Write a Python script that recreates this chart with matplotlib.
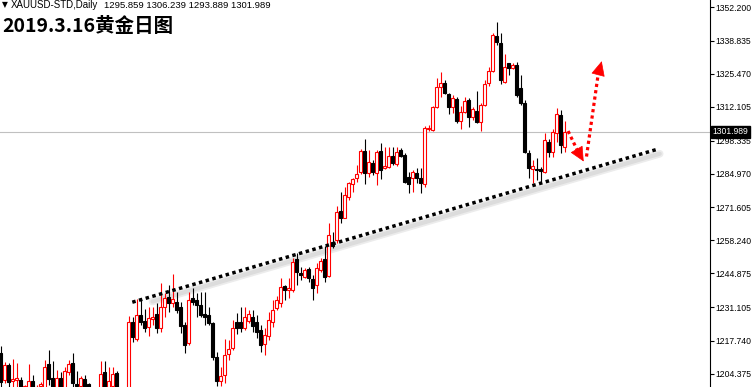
import numpy as np
import matplotlib.pyplot as plt
from matplotlib.patches import Rectangle
from matplotlib.transforms import blended_transform_factory

# daily XAUUSD candles (oldest first)
opens = [1212.7, 1201.8, 1207.9, 1201.4, 1201.8, 1201.8, 1195.7, 1195.7, 1201.4, 1194.5,
         1199.4, 1195.7, 1208.3, 1202.6, 1197.0, 1202.6, 1197.0, 1205.0, 1208.7, 1200.0,
         1199.4, 1202.2, 1200.2, 1196.0, 1191.0, 1195.7, 1205.0, 1197.0, 1199.4, 1204.6,
         1196.0, 1188.0, 1194.0, 1225.2, 1218.3, 1228.0, 1225.6, 1223.2, 1226.4, 1228.4,
         1222.8, 1231.3, 1235.3, 1232.9, 1233.3, 1231.3, 1224.0, 1216.7, 1234.9, 1234.1,
         1232.1, 1228.4, 1228.0, 1224.8, 1211.1, 1201.4, 1203.8, 1212.3, 1214.7, 1225.2,
         1225.2, 1222.8, 1225.6, 1227.2, 1225.2, 1222.0, 1216.3, 1219.6, 1225.2, 1230.9,
         1232.9, 1239.7, 1238.1, 1238.1, 1250.6, 1245.0, 1243.4, 1246.6, 1242.6, 1240.2,
         1246.2, 1250.6, 1243.8, 1257.5, 1258.3, 1270.0, 1267.2, 1275.7, 1280.9, 1283.3,
         1285.8, 1294.2, 1285.4, 1289.4, 1285.4, 1294.2, 1287.4, 1287.8, 1292.2, 1289.0,
         1294.6, 1292.6, 1283.7, 1283.3, 1285.4, 1283.3, 1280.9, 1303.1, 1302.7, 1312.0,
         1320.1, 1321.7, 1317.2, 1312.0, 1315.2, 1306.4, 1310.0, 1314.8, 1308.0, 1310.4,
         1306.0, 1312.8, 1321.7, 1326.5, 1340.7, 1337.8, 1322.1, 1329.8, 1327.7, 1329.0,
         1319.7, 1313.6, 1293.4, 1287.0, 1287.0, 1287.0, 1285.8, 1297.9, 1293.8, 1301.5,
         1308.8, 1295.859]
highs = [1215.5, 1209.1, 1208.7, 1210.3, 1208.7, 1203.0, 1199.8, 1208.3, 1203.8, 1199.8,
         1201.0, 1209.9, 1213.9, 1209.5, 1205.8, 1205.0, 1207.0, 1209.9, 1212.7, 1205.4,
         1203.4, 1203.8, 1200.6, 1198.0, 1198.0, 1209.5, 1209.5, 1207.0, 1207.0, 1205.4,
         1198.0, 1197.0, 1227.6, 1227.2, 1234.5, 1234.1, 1230.5, 1231.3, 1231.3, 1232.9,
         1241.0, 1236.9, 1240.2, 1244.6, 1237.3, 1233.3, 1225.2, 1237.3, 1238.9, 1236.9,
         1237.3, 1237.3, 1231.3, 1225.2, 1213.1, 1207.0, 1218.3, 1217.9, 1226.0, 1228.8,
         1231.3, 1231.3, 1230.0, 1230.0, 1228.0, 1224.0, 1222.8, 1229.2, 1234.1, 1235.7,
         1243.0, 1240.2, 1243.0, 1251.0, 1253.1, 1247.4, 1247.0, 1247.4, 1244.2, 1249.0,
         1251.0, 1255.9, 1265.2, 1261.5, 1272.0, 1277.7, 1279.7, 1281.7, 1283.3, 1288.6,
         1295.0, 1299.1, 1294.6, 1290.6, 1294.6, 1297.5, 1295.9, 1295.9, 1295.9, 1295.9,
         1295.5, 1293.4, 1285.8, 1286.6, 1287.4, 1287.4, 1304.3, 1304.7, 1312.4, 1323.7,
         1326.1, 1322.9, 1317.6, 1316.8, 1316.0, 1312.4, 1316.0, 1315.6, 1312.0, 1318.5,
         1313.6, 1322.9, 1328.2, 1341.9, 1346.3, 1341.9, 1333.4, 1329.8, 1329.8, 1330.2,
         1324.9, 1314.8, 1294.6, 1290.6, 1291.4, 1287.8, 1301.5, 1299.1, 1303.1, 1311.6,
         1310.8, 1306.239]
lows = [1197.8, 1200.6, 1197.8, 1197.8, 1197.8, 1193.7, 1193.7, 1193.7, 1193.7, 1192.0,
        1197.8, 1194.5, 1199.8, 1194.5, 1194.5, 1194.5, 1195.7, 1203.8, 1197.0, 1197.0,
        1197.8, 1194.5, 1193.7, 1190.0, 1189.0, 1194.5, 1194.5, 1195.7, 1197.8, 1193.7,
        1186.0, 1185.0, 1192.0, 1217.1, 1217.5, 1224.0, 1221.2, 1219.6, 1224.0, 1220.8,
        1221.2, 1227.2, 1229.2, 1231.3, 1228.8, 1220.8, 1212.7, 1215.9, 1232.1, 1227.2,
        1227.2, 1224.0, 1224.0, 1209.9, 1199.2, 1199.4, 1200.6, 1209.9, 1213.9, 1220.4,
        1221.2, 1222.0, 1224.8, 1221.2, 1218.7, 1213.1, 1211.9, 1217.9, 1223.2, 1230.0,
        1231.3, 1234.1, 1234.9, 1237.3, 1240.2, 1242.2, 1243.0, 1241.4, 1234.1, 1236.9,
        1245.4, 1241.4, 1243.4, 1255.1, 1257.1, 1265.2, 1267.0, 1274.5, 1277.7, 1281.7,
        1285.0, 1280.9, 1283.7, 1284.6, 1280.5, 1282.9, 1287.0, 1287.4, 1288.6, 1288.2,
        1291.8, 1281.3, 1277.3, 1277.7, 1281.3, 1277.3, 1279.7, 1302.3, 1302.3, 1311.6,
        1316.0, 1317.2, 1309.2, 1309.6, 1305.5, 1303.1, 1309.6, 1303.9, 1306.8, 1305.5,
        1302.3, 1312.4, 1320.5, 1326.1, 1337.0, 1321.3, 1321.7, 1324.9, 1327.3, 1316.0,
        1312.8, 1293.4, 1283.3, 1281.3, 1282.5, 1281.7, 1285.4, 1291.8, 1291.8, 1297.9,
        1293.4, 1293.889]
closes = [1201.0, 1207.9, 1201.0, 1202.2, 1202.6, 1195.7, 1199.4, 1201.4, 1195.7, 1199.0,
          1200.2, 1207.0, 1202.2, 1197.0, 1202.6, 1197.0, 1205.4, 1208.3, 1200.6, 1199.2,
          1202.6, 1197.0, 1195.7, 1192.0, 1197.0, 1204.2, 1197.0, 1201.4, 1204.2, 1195.7,
          1188.0, 1194.0, 1225.2, 1219.2, 1228.0, 1225.2, 1222.8, 1226.8, 1227.2, 1222.8,
          1231.3, 1234.9, 1232.9, 1234.5, 1230.0, 1223.6, 1215.9, 1234.1, 1233.3, 1232.1,
          1228.0, 1227.2, 1224.8, 1211.1, 1201.4, 1203.4, 1211.9, 1214.3, 1222.8, 1222.8,
          1222.8, 1227.2, 1228.4, 1223.6, 1221.2, 1215.9, 1220.0, 1226.0, 1230.0, 1234.1,
          1239.3, 1238.1, 1238.9, 1249.4, 1245.4, 1244.2, 1246.2, 1243.0, 1238.9, 1247.0,
          1249.8, 1243.4, 1260.3, 1255.9, 1269.6, 1267.2, 1276.5, 1281.3, 1282.9, 1285.0,
          1294.2, 1285.4, 1289.8, 1285.8, 1293.8, 1286.6, 1288.2, 1292.2, 1289.4, 1293.8,
          1292.2, 1281.7, 1280.9, 1285.8, 1283.3, 1281.3, 1303.5, 1303.5, 1312.0, 1320.1,
          1321.7, 1317.6, 1312.0, 1315.6, 1306.4, 1310.0, 1314.4, 1308.0, 1311.2, 1306.0,
          1312.8, 1321.3, 1326.5, 1341.1, 1338.2, 1322.9, 1328.2, 1327.7, 1329.0, 1316.8,
          1313.6, 1293.8, 1287.4, 1288.2, 1286.6, 1286.2, 1298.7, 1293.8, 1301.9, 1309.2,
          1296.7, 1301.989]

price_ticks = [1352.200, 1338.835, 1325.470, 1312.105, 1298.335, 1284.970,
               1271.605, 1258.240, 1244.875, 1231.105, 1217.740, 1204.375]
last_price = 1301.989
header = "XAUUSD-STD,Daily"
header_ohlc = "1295.859 1306.239 1293.889 1301.989"
title = "2019.3.16黄金日图"

# trend line (bar index, price) and the two red arrows
trend_x = [32.95, 163.9]
trend_y = [1233.2, 1294.8]
arrow1 = [(141.9, 1302.3), (144.3, 1294.2), (145.8, 1290.0)]   # start, dots end, tip
arrow2 = [(146.5, 1292.0), (149.4, 1325.0), (150.3, 1330.5)]

fig = plt.figure(figsize=(7.52, 3.87), dpi=100)
ax = fig.add_axes([0, 0, 710 / 752, 1])
ax.set_xlim(-0.125, 177.375)
ax.set_ylim(1198.97, 1355.2)

ax.axhline(last_price, color='#c0c0c0', lw=0.8, zorder=0)

w = 0.55
for i in range(len(opens)):
    o, h, l, c = opens[i], highs[i], lows[i], closes[i]
    up = c >= o
    col = 'red' if up else 'black'
    ax.vlines(i, l, h, color=col, lw=0.8, zorder=2)
    bottom = min(o, c)
    height = max(abs(c - o), 0.3)
    ax.add_patch(Rectangle((i - w / 2, bottom), w, height,
                           facecolor='white' if up else 'black',
                           edgecolor=col, lw=0.8, zorder=3))

# soft shadow under the trend line, then the dotted line itself
slope = (trend_y[1] - trend_y[0]) / (trend_x[1] - trend_x[0])
sx = np.array([38.0, 164.8])
sy = trend_y[0] + (sx - trend_x[0]) * slope - 2.1
ax.plot(sx, sy, color='#ececec', lw=5.5, solid_capstyle='round', zorder=1)
ax.plot(sx, sy, color='#dcdcdc', lw=3.0, solid_capstyle='round', zorder=1)
ax.plot(trend_x, trend_y, color='black', lw=2.5, dashes=(1.0, 1.0),
        dash_capstyle='butt', zorder=4)

for arr in (arrow1, arrow2):
    (x0, y0), (x1, y1), (x2, y2) = arr
    ax.plot([x0, x1], [y0, y1], color='red', lw=2.3, dashes=(1.0, 1.0),
            dash_capstyle='butt', zorder=5)
    ax.annotate('', xy=(x2, y2), xytext=(x1, y1),
                arrowprops=dict(arrowstyle='-|>,head_length=0.95,head_width=0.45',
                                color='red', lw=0.5, shrinkA=0, shrinkB=0),
                zorder=5)

# right price axis
for s in ['top', 'left', 'bottom']:
    ax.spines[s].set_visible(False)
ax.spines['right'].set_linewidth(0.8)
ax.set_xticks([])
ax.yaxis.tick_right()
ax.set_yticks(price_ticks)
ax.set_yticklabels(['%.3f' % v for v in price_ticks], family='Liberation Sans')
ax.tick_params(axis='y', direction='out', length=3, width=0.8, pad=1.0, labelsize=6.2)

trans = blended_transform_factory(ax.transAxes, ax.transData)
ax.text(1.004, last_price, '%.3f' % last_price, transform=trans, ha='left', va='center',
        color='white', fontsize=6.2, family='Liberation Sans', zorder=10, clip_on=False,
        bbox=dict(boxstyle='square,pad=0.2', fc='black', ec='black'))

fig.text(2 / 752, 1 - 5 / 387, '▼', fontsize=5.5, va='center', ha='left', family='DejaVu Sans')
fig.text(11 / 752, 1 - 5 / 387, header, fontsize=7.0, va='center', ha='left',
         family='Liberation Sans')
fig.text(104 / 752, 1 - 5 / 387, header_ohlc, fontsize=6.8, va='center', ha='left',
         family='Liberation Sans')
fig.text(2 / 752, 1 - 32 / 387, title, fontsize=14, fontweight='bold', va='baseline',
         ha='left', family=['Noto Sans CJK SC', 'DejaVu Sans'])

fig.savefig('out.png', dpi=100)
